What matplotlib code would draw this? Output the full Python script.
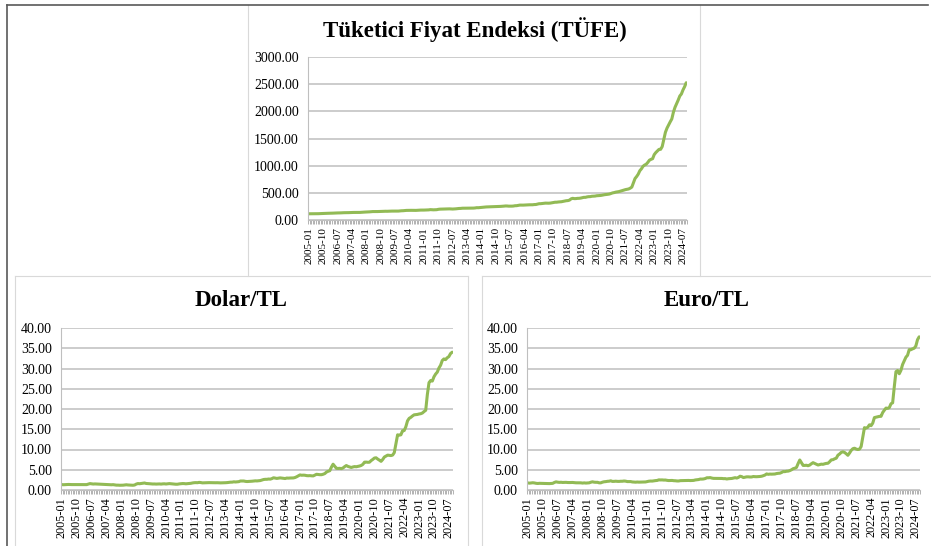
import numpy as np
import matplotlib
matplotlib.use("Agg")
import matplotlib.pyplot as plt
from matplotlib.lines import Line2D

plt.rcParams['font.family'] = ['Liberation Serif', 'DejaVu Serif']

# --- data: monthly, 2005-01 .. 2024-09 ---
months = [f"{y}-{m:02d}" for y in range(2005, 2025) for m in range(1, 13)][:237]

tufe = [
    114.5, 114.5, 114.8, 115.8, 116.2, 116.1, 116.1, 117.0, 118.0, 120.2, 121.9, 122.7,
    123.6, 123.8, 124.2, 126.2, 128.1, 128.5, 130.0, 129.8, 131.3, 133.2, 134.3, 134.5,
    135.3, 135.7, 137.2, 138.8, 139.1, 138.9, 138.0, 137.7, 139.7, 142.4, 144.7, 145.8,
    146.9, 148.8, 150.3, 152.9, 155.2, 155.0, 156.0, 155.5, 156.9, 160.1, 161.1, 160.4,
    160.9, 160.4, 162.1, 162.2, 163.8, 163.4, 163.8, 163.3, 164.1, 167.9, 170.0, 170.9,
    174.1, 176.6, 177.6, 178.7, 178.0, 177.0, 176.2, 176.9, 179.1, 182.4, 182.4, 181.9,
    182.6, 183.9, 184.7, 186.3, 190.8, 188.1, 187.3, 188.7, 189.9, 196.3, 199.7, 200.9,
    201.9, 203.1, 203.8, 206.0, 205.1, 202.7, 201.8, 203.1, 205.8, 209.3, 212.4, 213.2,
    216.7, 217.0, 217.9, 218.8, 219.5, 220.0, 219.9, 219.3, 221.8, 226.7, 226.0, 229.0,
    233.5, 234.5, 237.2, 240.4, 241.3, 240.6, 241.5, 242.1, 243.2, 247.0, 248.4, 247.7,
    250.5, 252.2, 255.2, 258.4, 257.8, 254.8, 254.1, 254.9, 257.3, 262.7, 263.6, 269.5,
    274.4, 273.8, 273.8, 275.4, 277.3, 278.0, 280.0, 279.6, 280.4, 284.3, 285.1, 292.5,
    299.7, 300.3, 303.9, 309.4, 310.6, 309.6, 309.1, 311.3, 316.2, 322.0, 327.1, 327.4,
    331.6, 333.2, 336.5, 342.8, 348.3, 354.9, 357.2, 365.6, 388.6, 398.9, 393.3, 393.9,
    398.2, 399.1, 403.2, 409.4, 417.0, 417.0, 425.0, 429.5, 430.1, 437.0, 439.0, 440.5,
    446.5, 448.0, 450.7, 454.1, 461.0, 466.0, 469.0, 473.0, 478.0, 489.0, 499.0, 504.8,
    513.3, 517.6, 523.1, 532.0, 540.0, 549.0, 559.0, 564.0, 571.0, 586.0, 606.0, 687.0,
    763.2, 799.9, 843.6, 906.9, 941.6, 988.4, 1011.7, 1026.6, 1060.5, 1100.5, 1116.2, 1128.5,
    1203.5, 1241.3, 1269.8, 1300.0, 1300.6, 1351.6, 1479.9, 1614.3, 1691.0, 1749.0, 1806.5, 1859.4,
    1984.0, 2073.9, 2139.5, 2207.5, 2281.9, 2319.3, 2394.1, 2453.2, 2526.2,
]

dolar = [
    1.33, 1.30, 1.33, 1.38, 1.37, 1.35, 1.34, 1.34, 1.34, 1.35, 1.36, 1.35,
    1.34, 1.32, 1.34, 1.33, 1.45, 1.58, 1.52, 1.47, 1.50, 1.48, 1.45, 1.43,
    1.42, 1.41, 1.40, 1.37, 1.35, 1.32, 1.29, 1.32, 1.27, 1.20, 1.20, 1.17,
    1.18, 1.19, 1.24, 1.29, 1.24, 1.22, 1.21, 1.17, 1.23, 1.46, 1.59, 1.55,
    1.61, 1.69, 1.73, 1.61, 1.57, 1.55, 1.52, 1.48, 1.49, 1.46, 1.49, 1.50,
    1.46, 1.51, 1.53, 1.48, 1.54, 1.58, 1.54, 1.50, 1.48, 1.42, 1.43, 1.51,
    1.56, 1.59, 1.58, 1.53, 1.57, 1.61, 1.65, 1.74, 1.80, 1.82, 1.80, 1.88,
    1.84, 1.76, 1.78, 1.79, 1.80, 1.82, 1.81, 1.80, 1.80, 1.79, 1.80, 1.78,
    1.76, 1.77, 1.80, 1.80, 1.83, 1.89, 1.93, 1.94, 2.02, 1.98, 2.02, 2.06,
    2.22, 2.21, 2.22, 2.13, 2.09, 2.11, 2.12, 2.17, 2.22, 2.26, 2.24, 2.29,
    2.33, 2.46, 2.59, 2.64, 2.64, 2.71, 2.68, 2.81, 3.02, 2.93, 2.86, 2.92,
    2.99, 2.93, 2.89, 2.83, 2.95, 2.93, 2.96, 2.96, 2.98, 3.08, 3.27, 3.50,
    3.73, 3.64, 3.67, 3.64, 3.55, 3.52, 3.55, 3.50, 3.48, 3.68, 3.88, 3.83,
    3.78, 3.78, 3.89, 4.06, 4.43, 4.62, 4.76, 5.65, 6.37, 5.86, 5.35, 5.32,
    5.35, 5.27, 5.44, 5.77, 6.04, 5.82, 5.70, 5.56, 5.69, 5.78, 5.74, 5.83,
    5.92, 6.06, 6.33, 6.87, 6.89, 6.84, 6.86, 7.26, 7.55, 7.89, 7.95, 7.63,
    7.37, 7.07, 7.53, 8.14, 8.37, 8.61, 8.56, 8.50, 8.62, 9.23, 11.41, 13.62,
    13.54, 13.63, 14.63, 14.68, 15.63, 17.07, 17.69, 17.94, 18.28, 18.56, 18.61, 18.66,
    18.77, 18.84, 19.01, 19.37, 19.68, 23.60, 26.51, 27.04, 26.89, 27.96, 28.63, 29.11,
    30.13, 30.80, 31.96, 32.36, 32.19, 32.65, 32.94, 33.68, 34.03,
]

euro = [
    1.75, 1.69, 1.75, 1.79, 1.74, 1.65, 1.61, 1.65, 1.64, 1.63, 1.61, 1.60,
    1.61, 1.58, 1.61, 1.64, 1.86, 2.01, 1.93, 1.88, 1.91, 1.86, 1.87, 1.89,
    1.85, 1.84, 1.86, 1.86, 1.82, 1.78, 1.78, 1.80, 1.77, 1.71, 1.76, 1.71,
    1.74, 1.77, 1.92, 2.02, 1.93, 1.90, 1.90, 1.77, 1.77, 1.93, 2.03, 2.07,
    2.14, 2.17, 2.27, 2.12, 2.13, 2.17, 2.13, 2.12, 2.16, 2.16, 2.22, 2.18,
    2.08, 2.07, 2.08, 1.99, 1.95, 1.93, 1.97, 1.94, 1.95, 1.98, 1.96, 1.99,
    2.09, 2.17, 2.21, 2.20, 2.27, 2.32, 2.36, 2.50, 2.48, 2.49, 2.45, 2.46,
    2.38, 2.33, 2.35, 2.36, 2.30, 2.28, 2.23, 2.23, 2.31, 2.32, 2.31, 2.34,
    2.34, 2.36, 2.33, 2.34, 2.37, 2.48, 2.52, 2.58, 2.70, 2.69, 2.73, 2.83,
    3.02, 3.02, 3.06, 2.94, 2.87, 2.87, 2.87, 2.89, 2.87, 2.85, 2.80, 2.81,
    2.72, 2.79, 2.81, 2.85, 2.95, 3.04, 2.95, 3.11, 3.40, 3.30, 3.07, 3.17,
    3.25, 3.25, 3.21, 3.22, 3.33, 3.29, 3.28, 3.31, 3.34, 3.40, 3.53, 3.69,
    3.97, 3.87, 3.93, 3.91, 3.92, 3.95, 4.06, 4.12, 4.15, 4.32, 4.55, 4.53,
    4.63, 4.66, 4.79, 4.99, 5.26, 5.38, 5.56, 6.54, 7.41, 6.72, 6.07, 6.07,
    6.11, 5.99, 6.16, 6.48, 6.75, 6.56, 6.39, 6.17, 6.28, 6.38, 6.34, 6.47,
    6.57, 6.60, 6.98, 7.44, 7.48, 7.70, 7.85, 8.59, 8.89, 9.28, 9.43, 9.27,
    8.95, 8.57, 9.12, 9.78, 10.19, 10.32, 10.11, 9.99, 10.09, 10.73, 12.99, 15.39,
    15.28, 15.49, 16.10, 15.88, 16.51, 17.88, 17.99, 18.08, 18.18, 18.19, 19.13, 19.71,
    20.23, 20.16, 20.34, 21.29, 21.53, 25.52, 29.22, 29.50, 28.70, 29.54, 30.99, 31.89,
    32.79, 33.27, 34.66, 34.64, 34.85, 35.01, 35.56, 37.11, 37.82,
]

W, H = 931, 546
LINE_COLOR = '#92BA55'
GRID_COLOR = '#BFBFBF'


def px_rect(left, top, right, bottom):
    # pixel box -> figure fraction [l, b, w, h]
    return [left / W, 1 - bottom / H, (right - left) / W, (bottom - top) / H]


def draw_chart(fig, rect, values, ymax, ystep, title, title_xy, xlab_size=8):
    ax = fig.add_axes(rect)
    x = np.arange(len(values))
    ax.plot(x, values, color=LINE_COLOR, linewidth=2.2, solid_capstyle='round')
    ax.set_xlim(-0.5, len(values) - 0.5)
    ax.set_ylim(0, ymax)
    ax.set_yticks(np.arange(0, ymax + ystep / 2, ystep))
    ax.yaxis.set_major_formatter(matplotlib.ticker.FormatStrFormatter('%.2f'))
    ax.grid(axis='y', color=GRID_COLOR, linewidth=1.1)
    ax.set_axisbelow(True)
    for s in ['top', 'right']:
        ax.spines[s].set_visible(False)
    ax.spines['left'].set_color(GRID_COLOR)
    ax.spines['bottom'].set_color(GRID_COLOR)
    ax.tick_params(axis='y', length=0, pad=6.5, labelsize=10)
    ax.set_xticks(x[::9])
    ax.set_xticklabels([months[i] for i in x[::9]], rotation=90)
    ax.set_xticks(np.arange(-0.5, len(values), 1), minor=True)
    ax.tick_params(axis='x', which='major', length=0, pad=5, labelsize=xlab_size)
    ax.tick_params(axis='x', which='minor', length=3, color='#A6A6A6', width=0.6)
    fig.text(title_xy[0] / W, 1 - title_xy[1] / H, title, ha='center', va='center',
             fontsize=16.5, fontweight='bold')
    return ax


fig = plt.figure(figsize=(W / 100, H / 100), dpi=100)

# chart frames and outer border
frame = '#D9D9D9'
def fline(x0, y0, x1, y1, color=frame, lw=0.8):
    fig.add_artist(Line2D([x0 / W, x1 / W], [1 - y0 / H, 1 - y1 / H],
                          transform=fig.transFigure, color=color, linewidth=lw))

fline(248, 5, 248, 276)
fline(700, 5, 700, 276)
fline(15, 276, 468, 276)
fline(15, 276, 15, 546)
fline(468, 276, 468, 546)
fline(482, 276, 930, 276)
fline(482, 276, 482, 546)
fline(7, 5, 928, 5, color='#595959', lw=1.2)
fline(7, 5, 7, 546, color='#595959', lw=1.2)

draw_chart(fig, px_rect(308, 57, 687, 220), tufe, 3000, 500,
           'Tüketici Fiyat Endeksi (TÜFE)', (475, 30), xlab_size=8)
draw_chart(fig, px_rect(61, 328, 453, 490), dolar, 40, 5,
           'Dolar/TL', (241, 301), xlab_size=8.8)
draw_chart(fig, px_rect(527, 328, 920, 490), euro, 40, 5,
           'Euro/TL', (707, 301), xlab_size=8.8)

fig.savefig('out.png', dpi=100)
